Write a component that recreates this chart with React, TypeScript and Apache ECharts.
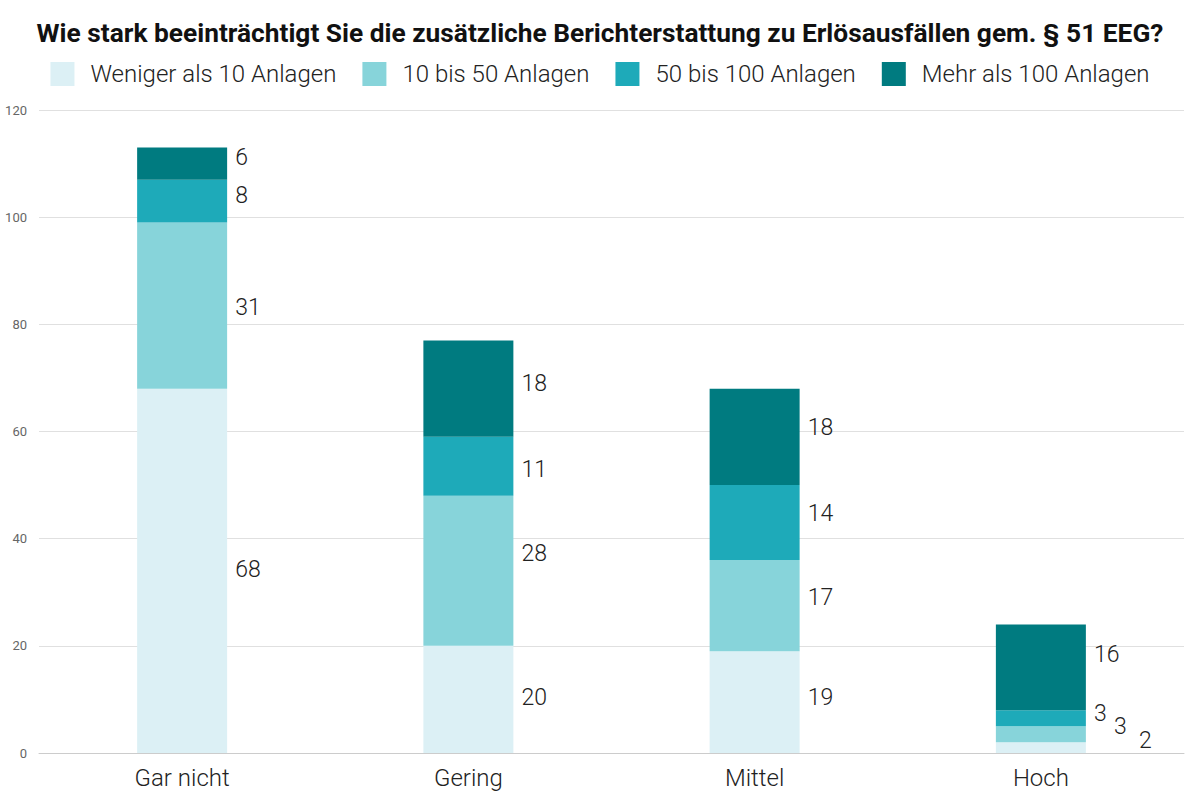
import { useEffect, useRef } from 'react'
import * as echarts from 'echarts'

// Kategorien und Werte (gestapelt, von unten nach oben)
const categories = ['Gar nicht', 'Gering', 'Mittel', 'Hoch']
const seriesNames = ['Weniger als 10 Anlagen', '10 bis 50 Anlagen', '50 bis 100 Anlagen', 'Mehr als 100 Anlagen']
const weniger10 = [68, 20, 19, 2]
const von10bis50 = [31, 28, 17, 3]
const von50bis100 = [8, 11, 14, 3]
const mehr100 = [6, 18, 18, 16]

const colors = ['#dcf0f5', '#87d4da', '#1eaab9', '#007b80']

// Label-Verschiebungen (x, y) je Serie und Kategorie
const labelOffsets = [
  [[0, -1], [0, -2], [0, -5], [45, -7]],
  [[0, 2], [0, -17], [0, -8], [20, -8]],
  [[0, -6], [0, 3], [0, -9], [0, -5]],
  [[0, -6], [0, -5], [0, -9], [0, -13]]
]

const FONT = 'Roboto, "Noto Sans", sans-serif'

export default function App() {
  const chartRef = useRef<HTMLDivElement>(null)

  useEffect(() => {
    document.body.style.margin = '0'
    if (!chartRef.current) return
    const chart = echarts.init(chartRef.current, null, { renderer: 'svg' })

    const values = [weniger10, von10bis50, von50bis100, mehr100]

    const option: echarts.EChartsOption = {
      animation: false,
      backgroundColor: '#ffffff',
      textStyle: { fontFamily: FONT },
      title: {
        text: 'Wie stark beeinträchtigt Sie die zusätzliche Berichterstattung zu Erlösausfällen gem. § 51 EEG?',
        left: 'center',
        top: 15,
        textStyle: { fontSize: 26.3, fontWeight: 'bold', color: '#111', fontFamily: FONT }
      },
      legend: {
        top: 57,
        left: 'center',
        itemWidth: 24,
        itemHeight: 24,
        itemGap: 26,
        icon: 'rect',
        textStyle: { fontSize: 24, fontWeight: 300, color: '#222', fontFamily: FONT, padding: [0, 0, 0, 11] },
        data: seriesNames
      },
      grid: { left: 39, right: 16, top: 110, bottom: 47 },
      xAxis: {
        type: 'category',
        data: categories,
        axisTick: { show: false },
        axisLine: { lineStyle: { color: '#cccccc' } },
        axisLabel: { fontSize: 24, color: '#222', fontWeight: 300, margin: 13 }
      },
      yAxis: {
        type: 'value',
        min: 0,
        max: 120,
        interval: 20,
        axisLabel: { fontSize: 13, color: '#666', margin: 12 },
        splitLine: { lineStyle: { color: '#e0e0e0' } }
      },
      series: seriesNames.map((name, si) => ({
        name,
        type: 'bar',
        stack: 'total',
        barWidth: 90,
        itemStyle: { color: colors[si] },
        label: {
          show: true,
          position: 'right',
          distance: 8,
          fontSize: 23,
          fontWeight: 300,
          color: '#222',
          fontFamily: FONT
        },
        data: values[si].map((v, ci) => ({
          value: v,
          label: { offset: labelOffsets[si][ci] }
        }))
      }))
    }

    chart.setOption(option)
    return () => {
      chart.dispose()
    }
  }, [])

  return <div ref={chartRef} style={{ width: 1200, height: 800 }} />
}
